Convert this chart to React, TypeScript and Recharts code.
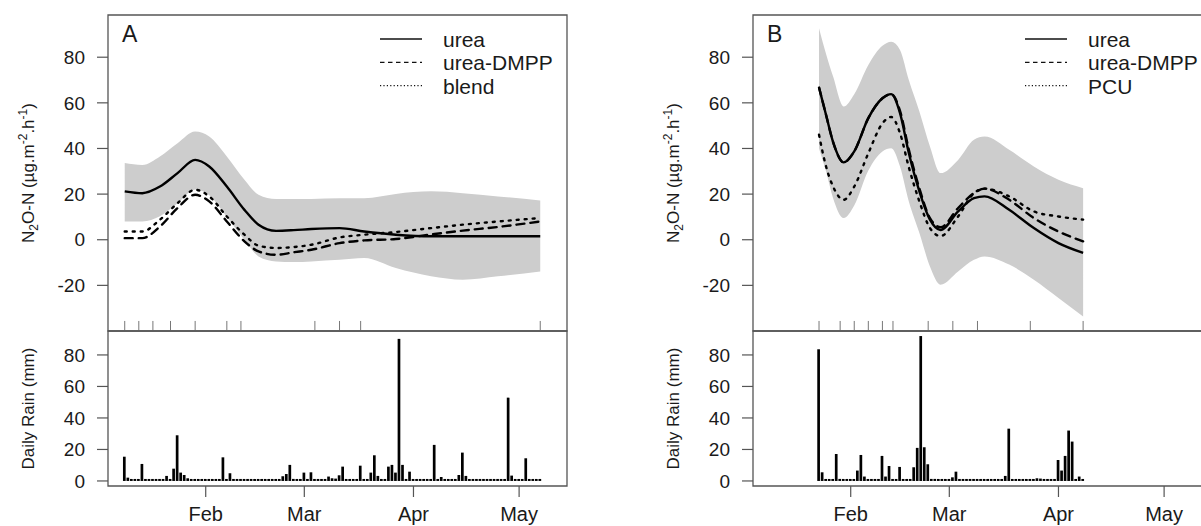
import React from 'react';
import { ComposedChart, Line, Area, Bar, XAxis, YAxis, ReferenceArea, ReferenceLine, Legend } from 'recharts';

// ---------- shared axis values ----------
const X_DOMAIN: [number, number] = [4.25, 134.6]; // day of year
const N2O_DOMAIN: [number, number] = [-40, 98.5];
const RAIN_DOMAIN: [number, number] = [-3.2, 95.2];
const n2oTicks = [-20, 0, 20, 40, 60, 80];
const rainTicks = [0, 20, 40, 60, 80];
const monthTickDays = [32, 60, 91, 121];
const monthLabels = ['Feb', 'Mar', 'Apr', 'May'];
const RUG_LEN = 4.4; // in N2O units

// ---------- Panel A ----------
const daysA = [9, 14, 19, 24, 29, 33, 38, 43, 47, 52, 57, 62, 70, 77, 86, 96, 105, 115, 127];
const ureaA = [21.2, 20.4, 23.3, 29.2, 35.0, 32.1, 23.3, 13.1, 6.6, 3.9, 4.2, 4.7, 5.1, 3.6, 2.2, 1.5, 1.5, 1.5, 1.5];
const dmppA = [0.7, 0.7, 5.8, 13.9, 19.7, 16.8, 8.0, -0.7, -5.1, -6.6, -5.5, -4.4, -1.5, -0.3, 0.3, 2.3, 4.0, 5.6, 8.0];
const blendA = [3.6, 3.6, 8.8, 16.0, 21.9, 19.0, 10.2, 2.2, -2.6, -3.6, -3.2, -2.2, 1.0, 2.2, 3.4, 5.1, 6.6, 8.0, 9.5];
const hiA = [33.6, 32.8, 36.5, 42.3, 47.4, 45.2, 36.5, 26.3, 19.7, 17.8, 17.8, 17.9, 18.2, 18.2, 20.1, 21.2, 20.4, 19.0, 17.2];
const loA = [8.0, 8.0, 10.3, 16.0, 22.0, 19.5, 10.0, 0.0, -7.3, -9.5, -9.8, -9.5, -8.8, -8.0, -12.4, -16.0, -17.5, -16.0, -13.9];
const rugA = [9, 13, 17, 22, 29, 38, 42, 63, 70, 76, 127];
const rainStartA = 9;
const rainEndA = 127;
const rainDaysA = [9, 10, 14, 15, 21, 23, 24, 25, 26, 27, 30, 37, 39, 54, 55, 56, 57, 60, 62, 63, 67, 68, 69, 70, 71, 76, 77, 79, 80, 81, 82, 84, 85, 86, 87, 88, 89, 90, 97, 98, 99, 104, 105, 106, 118, 119, 120, 123];
const rainMmA = [15.4, 2.1, 10.8, 1, 3.2, 7.8, 29, 5.3, 3.8, 1.7, 1, 15, 4.9, 3, 4.4, 10.2, 1.3, 5.3, 5.5, 1, 2.8, 1.7, 1.5, 3.6, 9.1, 9.7, 1, 5.3, 16.3, 3.2, 1, 9.1, 10.2, 5.3, 90.2, 10.2, 1, 5.9, 22.9, 1, 2.5, 3.8, 18, 3.2, 52.9, 3.4, 1, 14.4];
const labelsA = ['urea', 'urea-DMPP', 'blend'];

// ---------- Panel B ----------
const daysB = [23, 25, 27, 30, 33, 37, 41, 43.5, 46, 48.5, 51.5, 54.5, 57.5, 62.5, 67, 70, 77, 84, 91, 98];
const ureaB = [66.7, 54.7, 42.8, 33.9, 38.7, 53.3, 62.0, 63.8, 55.5, 38.0, 21.2, 8.8, 4.3, 12.4, 18.2, 19.0, 13.1, 5.1, -1.5, -5.8];
const dmppB = [66.7, 54.7, 42.8, 33.9, 38.7, 53.3, 62.0, 63.8, 56.5, 39.5, 22.5, 9.5, 5.5, 13.9, 20.4, 22.4, 17.5, 9.5, 3.6, -0.7];
const pcuB = [46.0, 32.1, 23.3, 17.5, 23.3, 37.9, 51.0, 53.8, 46.7, 31.8, 16.8, 5.1, 1.6, 10.2, 20.4, 22.4, 19.0, 12.4, 10.2, 8.8];
const hiB = [92.7, 81.4, 71.5, 58.4, 63.8, 76.6, 85.0, 86.8, 83.2, 70.0, 56.2, 40.9, 29.2, 35.0, 43.8, 45.2, 39.4, 32.1, 26.3, 22.6];
const loB = [40.0, 29.9, 18.2, 9.5, 15.0, 30.3, 38.7, 40.1, 32.1, 16.8, 3.0, -11.7, -19.7, -13.9, -8.8, -7.3, -10.9, -17.5, -25.5, -33.6];
const rugB = [23, 29, 33, 37, 41, 44, 54, 61, 68, 83, 98];
const rainStartB = 23;
const rainEndB = 98;
const rainDaysB = [23, 24, 25, 28, 29, 33, 34, 35, 36, 40, 41, 42, 43, 46, 47, 50, 51, 52, 53, 54, 55, 56, 61, 62, 76, 77, 85, 86, 91, 92, 93, 94, 95, 97];
const rainMmB = [83.6, 5.5, 1, 17.1, 1.3, 1, 6.6, 16.5, 2.8, 1, 15.9, 2.8, 9.5, 8.9, 1, 8.7, 21, 92, 21.4, 10.6, 1.3, 1.3, 2.3, 5.9, 3.2, 33.2, 1.7, 1.5, 13.3, 6.6, 15.9, 32, 25, 2.8];
const labelsB = ['urea', 'urea-DMPP', 'PCU'];

// ---------- helpers ----------
function buildSeries(days: number[], a: number[], b: number[], c: number[], lo: number[], hi: number[]) {
  return days.map((d, i) => ({ day: d, s1: a[i], s2: b[i], s3: c[i], band: [lo[i], hi[i]] }));
}
function buildRain(start: number, end: number, rd: number[], mm: number[]) {
  const rows: { day: number; mm: number }[] = [];
  for (let d = start; d <= end; d++) {
    const k = rd.indexOf(d);
    rows.push({ day: d, mm: k >= 0 ? mm[k] : 0 });
  }
  return rows;
}

const INK = '#1a1a1a';
const FRAME = '#555';
const W = 600;
const H = 526;
const TOP = 15;
const SPLIT = 331;
const BOTTOM = 486;
const AXIS_W = 108;
const RIGHT = W - 567;

function N2OTitle(props: any) {
  const vb = props.viewBox;
  const cx = vb.x + vb.width - 74.5;
  const cy = vb.y + vb.height / 2;
  return (
    <text x={cx} y={cy} transform={`rotate(-90, ${cx}, ${cy})`} textAnchor="middle" fontSize={17} fill={INK}>
      <tspan>N</tspan>
      <tspan dy={4} fontSize={12}>2</tspan>
      <tspan dy={-4}>O-N (µg.m</tspan>
      <tspan dy={-7} fontSize={12}>-2</tspan>
      <tspan dy={7}>.h</tspan>
      <tspan dy={-7} fontSize={12}>-1</tspan>
      <tspan dy={7}>)</tspan>
    </text>
  );
}

function RainTitle(props: any) {
  const vb = props.viewBox;
  const cx = vb.x + vb.width - 74;
  const cy = vb.y + vb.height / 2;
  return (
    <text x={cx} y={cy} transform={`rotate(-90, ${cx}, ${cy})`} textAnchor="middle" fontSize={17} fill={INK}>
      Daily Rain (mm)
    </text>
  );
}

const legendDash = [undefined, '4.5 3.5', '1.2 2.2'];

function makeLegend(labels: string[]) {
  return () => (
    <svg width={230} height={80} style={{ display: 'block' }}>
      {labels.map((l, i) => {
        const y = 12 + i * 23.3;
        return (
          <g key={l}>
            <line x1={5} x2={47} y1={y} y2={y} stroke="#111" strokeWidth={1.3} strokeDasharray={legendDash[i]} />
            <text x={68} y={y + 8} fontSize={21} fill={INK}>{l}</text>
          </g>
        );
      })}
    </svg>
  );
}

function Panel(props: {
  left: number;
  letter: string;
  series: any[];
  rain: any[];
  rug: number[];
  labels: string[];
}) {
  const { left, letter, series, rain, rug, labels } = props;
  const LetterLabel = (p: any) => (
    <text x={p.viewBox.x + 14} y={p.viewBox.y + 27} fontSize={23} fill={INK}>
      {letter}
    </text>
  );
  return (
    <>
      <div style={{ position: 'absolute', left, top: 0 }}>
        <ComposedChart width={W} height={H} data={series} margin={{ top: TOP, right: RIGHT, bottom: H - SPLIT, left: 0 }}>
          <XAxis dataKey="day" type="number" domain={X_DOMAIN} allowDataOverflow hide />
          <YAxis
            type="number"
            domain={N2O_DOMAIN}
            allowDataOverflow
            ticks={n2oTicks}
            interval={0}
            width={AXIS_W}
            tickSize={11}
            tickMargin={12}
            axisLine={false}
            tickLine={{ stroke: FRAME, strokeWidth: 1.2 }}
            tick={{ fontSize: 19, fill: INK }}
            label={{ content: (p: any) => <N2OTitle {...p} /> }}
          />
          <Area
            dataKey="band"
            type="monotone"
            stroke="none"
            fill="#cdcdcd"
            fillOpacity={1}
            isAnimationActive={false}
            dot={false}
            activeDot={false}
          />
          <Line dataKey="s3" type="monotone" stroke="#000" strokeWidth={2.4} strokeDasharray="2 6" strokeLinecap="round" dot={false} activeDot={false} isAnimationActive={false} />
          <Line dataKey="s2" type="monotone" stroke="#000" strokeWidth={2.4} strokeDasharray="8 6" strokeLinecap="round" dot={false} activeDot={false} isAnimationActive={false} />
          <Line dataKey="s1" type="monotone" stroke="#000" strokeWidth={2.4} dot={false} activeDot={false} isAnimationActive={false} />
          {rug.map((d) => (
            <ReferenceLine
              key={d}
              segment={[
                { x: d, y: N2O_DOMAIN[0] },
                { x: d, y: N2O_DOMAIN[0] + RUG_LEN },
              ]}
              stroke="#777"
              strokeWidth={1}
              ifOverflow="visible"
            />
          ))}
          <ReferenceArea
            x1={X_DOMAIN[0]}
            x2={X_DOMAIN[1]}
            y1={N2O_DOMAIN[0]}
            y2={N2O_DOMAIN[1]}
            fill="none"
            fillOpacity={0}
            stroke={FRAME}
            strokeWidth={1.3}
            label={{ content: (p: any) => <LetterLabel {...p} /> }}
          />
          <Legend
            layout="vertical"
            align="center"
            verticalAlign="middle"
            content={makeLegend(labels)}
            wrapperStyle={{ left: 375, top: 27.3, width: 230, height: 80 }}
          />
        </ComposedChart>
      </div>
      <div style={{ position: 'absolute', left, top: 0 }}>
        <ComposedChart width={W} height={H} data={rain} margin={{ top: SPLIT, right: RIGHT, bottom: 0, left: 0 }}>
          <XAxis
            dataKey="day"
            type="number"
            domain={X_DOMAIN}
            allowDataOverflow
            ticks={monthTickDays}
            interval={0}
            height={H - BOTTOM}
            tickSize={11}
            tickMargin={10}
            axisLine={false}
            tickLine={{ stroke: FRAME, strokeWidth: 1.2 }}
            tick={{ fontSize: 20, fill: INK }}
            tickFormatter={(v: number) => monthLabels[monthTickDays.indexOf(v)]}
          />
          <YAxis
            type="number"
            domain={RAIN_DOMAIN}
            allowDataOverflow
            ticks={rainTicks}
            interval={0}
            width={AXIS_W}
            tickSize={11}
            tickMargin={12}
            axisLine={false}
            tickLine={{ stroke: FRAME, strokeWidth: 1.2 }}
            tick={{ fontSize: 19, fill: INK }}
            label={{ content: (p: any) => <RainTitle {...p} /> }}
          />
          <Bar dataKey="mm" fill="#000" barSize={2.7} minPointSize={2} isAnimationActive={false} />
          <ReferenceArea
            x1={X_DOMAIN[0]}
            x2={X_DOMAIN[1]}
            y1={RAIN_DOMAIN[0]}
            y2={RAIN_DOMAIN[1]}
            fill="none"
            fillOpacity={0}
            stroke={FRAME}
            strokeWidth={1.3}
          />
        </ComposedChart>
      </div>
    </>
  );
}

const seriesA = buildSeries(daysA, ureaA, dmppA, blendA, loA, hiA);
const seriesB = buildSeries(daysB, ureaB, dmppB, pcuB, loB, hiB);
const rainA = buildRain(rainStartA, rainEndA, rainDaysA, rainMmA);
const rainB = buildRain(rainStartB, rainEndB, rainDaysB, rainMmB);

export default function App() {
  return (
    <div
      style={{
        position: 'absolute',
        left: 0,
        top: 0,
        width: 1201,
        height: 526,
        overflow: 'hidden',
        background: '#fff',
        fontFamily: '"Liberation Sans", Arial, sans-serif',
      }}
    >
      <Panel left={0} letter="A" series={seriesA} rain={rainA} rug={rugA} labels={labelsA} />
      <Panel left={644.7} letter="B" series={seriesB} rain={rainB} rug={rugB} labels={labelsB} />
    </div>
  );
}
